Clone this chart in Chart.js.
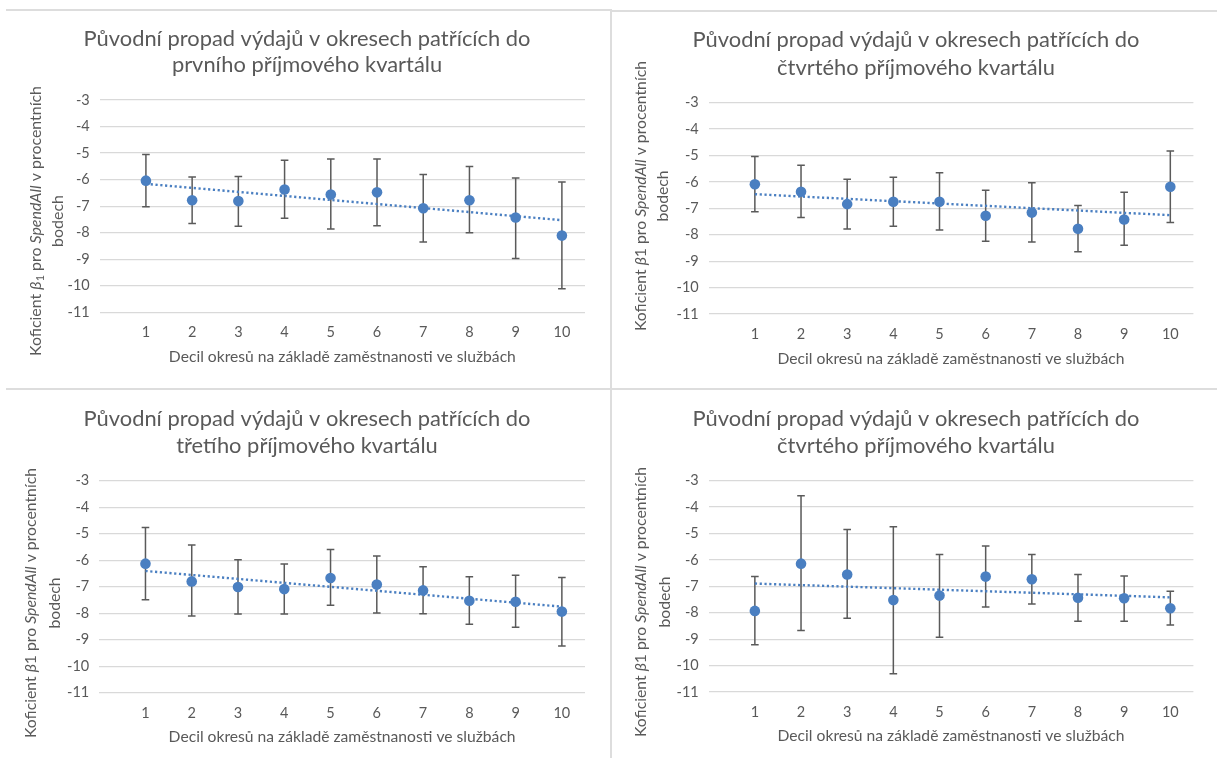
<!DOCTYPE html>
<html lang="cs">
<head>
<meta charset="utf-8">
<title>Původní propad výdajů podle příjmových kvartálů</title>
<script src="https://cdn.jsdelivr.net/npm/chart.js@4.4.0/dist/chart.umd.min.js"></script>
<style>
  html, body { margin: 0; padding: 0; background: #fff; }
  body { position: relative; width: 1217px; height: 758px; overflow: hidden; }
  canvas { position: absolute; }
  .rule { position: absolute; background: #dddddd; }
</style>
</head>
<body>
<div class="rule" style="left:6px; top:9px; width:605px; height:2px;"></div>
<div class="rule" style="left:612px; top:10px; width:605px; height:2px;"></div>
<div class="rule" style="left:610px; top:9px; width:2px; height:749px;"></div>
<div class="rule" style="left:6px; top:388px; width:604px; height:2px;"></div>
<div class="rule" style="left:612px; top:388px; width:605px; height:2px;"></div>

<canvas id="q1" width="610" height="388" style="left:0; top:0;"></canvas>
<canvas id="q4a" width="605" height="388" style="left:612px; top:0;"></canvas>
<canvas id="q3" width="610" height="368" style="left:0; top:390px;"></canvas>
<canvas id="q4b" width="605" height="368" style="left:612px; top:390px;"></canvas>

<script>
// Deciles of districts by service employment
const deciles = [1, 2, 3, 4, 5, 6, 7, 8, 9, 10];

// First income quartile: coefficient and confidence bounds
const q1Coef  = [-6.04, -6.78, -6.81, -6.37, -6.56, -6.48, -7.08, -6.78, -7.43, -8.11];
const q1Upper = [-5.05, -5.90, -5.88, -5.27, -5.22, -5.22, -5.81, -5.51, -5.94, -6.09];
const q1Lower = [-7.02, -7.65, -7.76, -7.46, -7.86, -7.74, -8.35, -8.00, -8.97, -10.11];

// Top right panel
const q4aCoef  = [-6.09, -6.37, -6.84, -6.75, -6.75, -7.28, -7.16, -7.77, -7.42, -6.18];
const q4aUpper = [-5.04, -5.37, -5.90, -5.82, -5.65, -6.31, -6.03, -6.89, -6.39, -4.83];
const q4aLower = [-7.13, -7.35, -7.78, -7.68, -7.82, -8.25, -8.27, -8.64, -8.40, -7.54];

// Third income quartile
const q3Coef  = [-6.13, -6.80, -7.01, -7.09, -6.67, -6.92, -7.14, -7.53, -7.57, -7.94];
const q3Upper = [-4.77, -5.43, -5.98, -6.14, -5.60, -5.84, -6.25, -6.62, -6.57, -6.65];
const q3Lower = [-7.49, -8.11, -8.03, -8.03, -7.70, -7.99, -8.02, -8.42, -8.53, -9.24];

// Fourth income quartile
const q4bCoef  = [-7.93, -6.14, -6.55, -7.52, -7.35, -6.63, -6.73, -7.43, -7.45, -7.83];
const q4bUpper = [-6.63, -3.57, -4.85, -4.74, -5.79, -5.47, -5.79, -6.55, -6.61, -7.19];
const q4bLower = [-9.21, -8.67, -8.21, -10.31, -8.93, -7.78, -7.67, -8.32, -8.32, -8.46];

const yMin = -11;
const yMax = -3;

const titleLine1 = "Původní propad výdajů v okresech patřících do";
const titleLine2 = [
  "prvního příjmového kvartálu",
  "čtvrtého příjmového kvartálu",
  "třetího příjmového kvartálu",
  "čtvrtého příjmového kvartálu"
];
const xAxisTitle = "Decil okresů na základě zaměstnanosti ve službách";

const FONT = "Lato, 'Open Sans', sans-serif";
const TEXT = "#595959";
const BLUE = "#4a7fc1";

// Least-squares trendline between the first and last decile
function trend(xs, ys) {
  const n = xs.length;
  const mx = xs.reduce((a, b) => a + b, 0) / n;
  const my = ys.reduce((a, b) => a + b, 0) / n;
  let sxy = 0, sxx = 0;
  for (let i = 0; i < n; i++) {
    sxy += (xs[i] - mx) * (ys[i] - my);
    sxx += (xs[i] - mx) * (xs[i] - mx);
  }
  const k = sxy / sxx;
  return [xs[0], xs[n - 1]].map(x => ({ x: x, y: my + k * (x - mx) }));
}

// Rich text helpers (italic / subscript pieces)
function segFont(seg, size) {
  return (seg.italic ? "italic " : "") + (seg.sub ? size * 0.68 : size) + "px " + FONT;
}
function segWidth(ctx, segs, size) {
  let w = 0;
  segs.forEach(s => { ctx.font = segFont(s, size); w += ctx.measureText(s.t).width; });
  return w;
}
function drawSegs(ctx, segs, size, sx) {
  const w = segWidth(ctx, segs, size);
  ctx.save();
  ctx.scale(sx, 1);
  let x = -w / 2;
  segs.forEach(s => {
    ctx.font = segFont(s, size);
    ctx.fillText(s.t, x, s.sub ? size * 0.22 : 0);
    x += ctx.measureText(s.t).width;
  });
  ctx.restore();
}

// Error bars, drawn under the markers
const errorBars = {
  id: "errorBars",
  beforeDatasetsDraw(chart, args, opts) {
    const { ctx, scales } = chart;
    ctx.save();
    ctx.strokeStyle = "#5a5a5a";
    ctx.lineWidth = 1.5;
    deciles.forEach((d, i) => {
      const px = scales.x.getPixelForValue(d);
      const top = scales.y.getPixelForValue(opts.upper[i]);
      const bot = scales.y.getPixelForValue(opts.lower[i]);
      ctx.beginPath();
      ctx.moveTo(px, top); ctx.lineTo(px, bot);
      ctx.moveTo(px - 3.8, top); ctx.lineTo(px + 3.8, top);
      ctx.moveTo(px - 3.8, bot); ctx.lineTo(px + 3.8, bot);
      ctx.stroke();
    });
    ctx.restore();
  }
};

// Chart title and axis titles
const panelText = {
  id: "panelText",
  afterDraw(chart, args, o) {
    const ctx = chart.ctx;
    const area = chart.chartArea;
    ctx.save();
    ctx.fillStyle = TEXT;
    ctx.textAlign = "left";
    ctx.textBaseline = "alphabetic";

    // title
    const t1 = [{ t: titleLine1 }];
    const t2 = [{ t: o.line2 }];
    const sT = 447 / segWidth(ctx, t1, 22);
    ctx.save(); ctx.translate(o.titleX, o.titleY[0]); drawSegs(ctx, t1, 22, sT); ctx.restore();
    ctx.save(); ctx.translate(o.titleX, o.titleY[1]); drawSegs(ctx, t2, 22, sT); ctx.restore();

    // x axis title
    const xt = [{ t: xAxisTitle }];
    const sX = 347 / segWidth(ctx, xt, 16);
    ctx.save(); ctx.translate((area.left + area.right) / 2, o.xTitleY); drawSegs(ctx, xt, 16, sX); ctx.restore();

    // y axis title, two rotated lines
    const y1 = [
      { t: "Koficient " },
      { t: "β", italic: true },
      { t: "1", sub: o.subscript },
      { t: " pro " },
      { t: "SpendAll", italic: true },
      { t: " v procentních" }
    ];
    const y2 = [{ t: "bodech" }];
    const sY = 270 / segWidth(ctx, y1, 16);
    ctx.save(); ctx.translate(o.yTitleX[0], o.yTitleCY); ctx.rotate(-Math.PI / 2); drawSegs(ctx, y1, 16, sY); ctx.restore();
    ctx.save(); ctx.translate(o.yTitleX[1], o.yTitleCY); ctx.rotate(-Math.PI / 2); drawSegs(ctx, y2, 16, sY); ctx.restore();
    ctx.restore();
  }
};

function makePanel(id, coef, upper, lower, box) {
  const canvas = document.getElementById(id);
  const W = canvas.width, H = canvas.height;
  return new Chart(canvas, {
    data: {
      datasets: [
        {
          type: "scatter",
          data: deciles.map((d, i) => ({ x: d, y: coef[i] })),
          pointRadius: 5.3,
          pointHoverRadius: 5.3,
          pointBackgroundColor: BLUE,
          pointBorderWidth: 0
        },
        {
          type: "line",
          data: trend(deciles, coef),
          borderColor: BLUE,
          borderWidth: 2.4,
          borderDash: [2.2, 2.6],
          pointRadius: 0,
          fill: false
        }
      ]
    },
    options: {
      responsive: false,
      animation: false,
      devicePixelRatio: 1,
      layout: { padding: { left: 0, top: box.t, right: W - box.r, bottom: 0 } },
      scales: {
        x: {
          type: "linear",
          min: 0,
          max: 10.5,
          afterBuildTicks: ax => { ax.ticks = deciles.map(v => ({ value: v })); },
          afterFit: ax => { ax.height = H - box.b; },
          grid: { display: false, drawTicks: false },
          border: { display: false },
          ticks: { padding: 11.5, color: TEXT, font: { family: FONT, size: 14.5 } }
        },
        y: {
          min: yMin,
          max: yMax,
          afterFit: ax => { ax.width = box.l; },
          grid: { color: "#d9d9d9", lineWidth: 1.3, drawTicks: false },
          border: { display: false },
          ticks: { stepSize: 1, padding: 10, color: TEXT, font: { family: FONT, size: 14.5 } }
        }
      },
      plugins: {
        legend: { display: false },
        tooltip: { enabled: false },
        errorBars: { upper: upper, lower: lower },
        panelText: {
          line2: box.line2,
          subscript: box.subscript,
          titleX: box.titleX,
          titleY: box.titleY,
          xTitleY: box.xTitleY,
          yTitleX: box.yTitleX,
          yTitleCY: box.yTitleCY
        }
      }
    },
    plugins: [errorBars, panelText]
  });
}

makePanel("q1", q1Coef, q1Upper, q1Lower, {
  l: 99.7, r: 585, t: 100, b: 312.3, line2: titleLine2[0], subscript: true,
  titleX: 307, titleY: [45.7, 72.3], xTitleY: 362.3, yTitleX: [40.5, 63], yTitleCY: 221
});
makePanel("q4a", q4aCoef, q4aUpper, q4aLower, {
  l: 96.7, r: 581.4, t: 102.7, b: 314, line2: titleLine2[1], subscript: false,
  titleX: 304, titleY: [47.3, 75], xTitleY: 364, yTitleX: [33.5, 56], yTitleCY: 196
});
makePanel("q3", q3Coef, q3Upper, q3Lower, {
  l: 99.2, r: 585, t: 90.7, b: 302.7, line2: titleLine2[2], subscript: false,
  titleX: 307, titleY: [35.7, 63.3], xTitleY: 352.3, yTitleX: [36, 60.3], yTitleCY: 213
});
makePanel("q4b", q4bCoef, q4bUpper, q4bLower, {
  l: 96.7, r: 581.4, t: 90.7, b: 302, line2: titleLine2[3], subscript: false,
  titleX: 304, titleY: [35.7, 63.3], xTitleY: 351, yTitleX: [34, 58], yTitleCY: 212
});
</script>
</body>
</html>
